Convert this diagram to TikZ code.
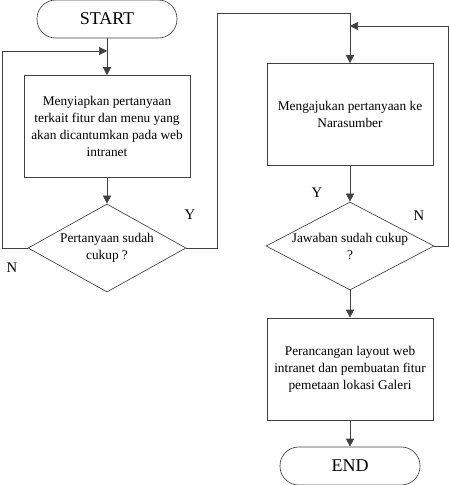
\documentclass[tikz,border=0pt]{standalone}
\usepackage{fontspec}
\setmainfont{Liberation Serif}
\usepackage{tikz}
\usetikzlibrary{arrows.meta,shapes.geometric}
\tikzset{
	flow/.style={draw=black!75, line width=0.5pt, -{Triangle[length=6pt,width=6pt]}},
	line/.style={draw=black!75, line width=0.5pt},
	terminal/.style={draw=black!75, line width=0.5pt, rectangle, rounded corners=14pt, minimum width=105pt, minimum height=28.5pt, font=\fontsize{13.5}{16}\selectfont},
	proc/.style={draw=black!75, line width=0.5pt, rectangle, minimum width=124.5pt, minimum height=76.5pt, align=center, font=\fontsize{10}{12.75}\selectfont},
	decide/.style={draw=black!75, line width=0.5pt, diamond, inner sep=0pt},
	yn/.style={font=\fontsize{11}{13}\selectfont}
}
\begin{document}
\begin{tikzpicture}[x=0.75pt, y=-0.75pt]
			%%%%% START %%%%%
			
			\useasboundingbox (0, 0) rectangle (449, 485);
			
			\node[terminal] (start) at (107, 19) {START};
			\node[proc] (siapkan) at (107, 126.5) {Menyiapkan pertanyaan\\terkait fitur dan menu yang\\akan dicantumkan pada web\\intranet};
			\node[decide, minimum width=118.5pt, minimum height=66pt, label={[align=center, font=\fontsize{10}{12.75}\selectfont]center:Pertanyaan sudah\\cukup ?}] (cukup) at (107, 248) {};
			
			\node[proc] (ajukan) at (350, 114.5) {Mengajukan pertanyaan ke\\Narasumber};
			\node[decide, minimum width=126pt, minimum height=66pt, label={[align=center, font=\fontsize{10}{12.75}\selectfont]center:Jawaban sudah cukup\\?}] (jawab) at (350, 246) {};
			\node[proc] (rancang) at (350, 369) {Perancangan layout web\\intranet dan pembuatan fitur\\pemetaan lokasi Galeri};
			\node[terminal] (end) at (350, 466) {END};
			
			\coordinate (balik1) at (107, 51);
			\coordinate (balik2) at (350, 26);
			
			\draw[flow] (start) -- (siapkan);
			\draw[flow] (siapkan) -- (cukup);
			\draw[flow] (cukup.west) -- (2, 248) -- (2, 51) -- (balik1);
			\draw[flow] (cukup.east) -- (217, 248) -- (217, 13) -- (350, 13) -- (ajukan);
			\draw[flow] (ajukan) -- (jawab);
			\draw[flow] (jawab.east) -- (448, 246) -- (448, 26) -- (balik2);
			\draw[flow] (jawab) -- (rancang);
			\draw[flow] (rancang) -- (end);
			
			\node[yn] (y1) at (190, 215) {Y};
			\node[yn] (n1) at (12, 268) {N};
			\node[yn] (y2) at (317, 193) {Y};
			\node[yn] (n2) at (419, 216) {N};
			
			%%%%% END %%%%%
\end{tikzpicture}
\end{document}
